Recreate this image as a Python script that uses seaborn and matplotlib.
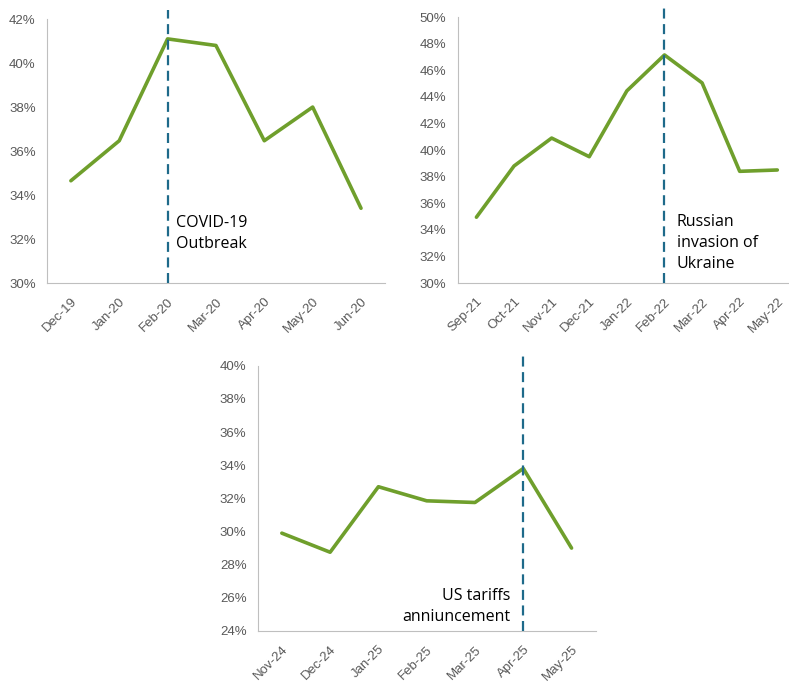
import numpy as np
import pandas as pd
import matplotlib
matplotlib.use("Agg")
import matplotlib.pyplot as plt
import seaborn as sns
from matplotlib.ticker import PercentFormatter, FixedLocator

sns.set_style("white")
plt.rcParams["font.family"] = ["Liberation Sans", "DejaVu Sans"]

# data
covid_months = ["Dec-19", "Jan-20", "Feb-20", "Mar-20", "Apr-20", "May-20", "Jun-20"]
covid_values = [34.65, 36.47, 41.1, 40.8, 36.47, 38.0, 33.4]

russia_months = ["Sep-21", "Oct-21", "Nov-21", "Dec-21", "Jan-22", "Feb-22",
                 "Mar-22", "Apr-22", "May-22"]
russia_values = [34.95, 38.8, 40.9, 39.5, 44.45, 47.15, 45.05, 38.4, 38.5]

tariff_months = ["Nov-24", "Dec-24", "Jan-25", "Feb-25", "Mar-25", "Apr-25", "May-25"]
tariff_values = [29.9, 28.75, 32.7, 31.85, 31.75, 33.8, 29.0]

GREEN = "#6F9F2C"
TEAL = "#1E6A8A"
GREY = "#595959"

fig = plt.figure(figsize=(7.89, 6.82), dpi=100)


def panel(rect, months, values, ylim, step, event, label, label_xy, ha):
    ax = fig.add_axes(rect)
    df = pd.DataFrame({"pos": np.arange(len(months)), "val": values})
    sns.lineplot(data=df, x="pos", y="val", ax=ax, color=GREEN, linewidth=2.6)
    ax.set_xlim(-0.5, len(months) - 0.5)
    ax.set_ylim(*ylim)
    ax.yaxis.set_major_locator(FixedLocator(np.arange(ylim[0], ylim[1] + 0.1, step)))
    ax.yaxis.set_major_formatter(PercentFormatter(decimals=0))
    ax.set_xticks(np.arange(len(months)))
    ax.set_xticklabels(months, rotation=45, ha="right", rotation_mode="anchor")
    ax.set_xticks(np.arange(len(months) + 1) - 0.5, minor=True)
    ax.tick_params(axis="x", which="major", length=0, pad=9, labelsize=9.5, labelcolor=GREY)
    ax.tick_params(axis="x", which="minor", length=4, color="#BFBFBF", width=0.8)
    ax.tick_params(axis="y", length=0, pad=8, labelsize=9.5, labelcolor=GREY)
    ax.set_xlabel("")
    ax.set_ylabel("")
    for s in ["top", "right"]:
        ax.spines[s].set_visible(False)
    for s in ["left", "bottom"]:
        ax.spines[s].set_color("#BFBFBF")
        ax.spines[s].set_linewidth(0.8)
    ax.axvline(months.index(event), ymin=0, ymax=1.035, color=TEAL, linewidth=1.6,
               dashes=(4.5, 2.5), clip_on=False, zorder=3)
    ax.text(label_xy[0], label_xy[1], label, ha=ha, va="center", fontsize=11.5,
            color="black", linespacing=1.4, multialignment=ha,
            family=["Open Sans", "DejaVu Sans"])
    return ax


panel([0.0592, 0.585, 0.429, 0.387], covid_months, covid_values, (30, 42), 2,
      "Feb-20", "COVID-19\nOutbreak", (2.17, 32.25), "left")
panel([0.580, 0.585, 0.429, 0.390], russia_months, russia_values, (30, 50), 2,
      "Feb-22", "Russian\ninvasion of\nUkraine", (5.32, 33.0), "left")
panel([0.3266, 0.0748, 0.4284, 0.389], tariff_months, tariff_values, (24, 40), 2,
      "Apr-25", "US tariffs\nanniuncement", (4.74, 25.5), "right")

fig.savefig("out.png", dpi=100)
